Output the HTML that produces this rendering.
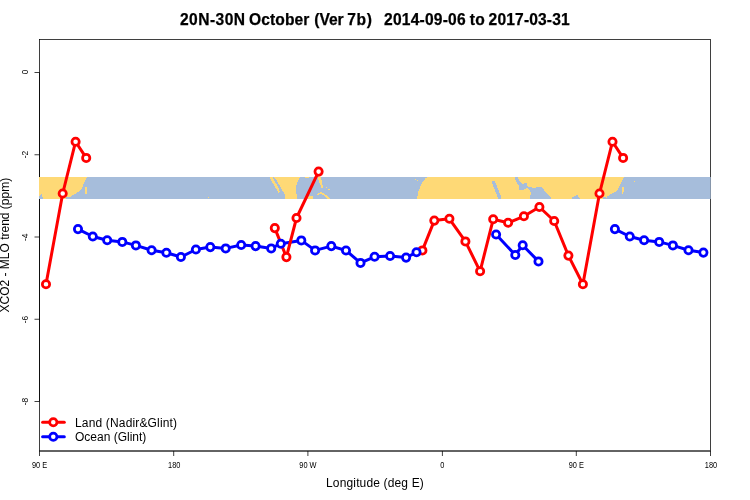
<!DOCTYPE html>
<html lang="en"><head><meta charset="utf-8"><title>20N-30N October (Ver 7b)</title>
<style>
html,body{margin:0;padding:0;background:#fff;}
body{width:750px;height:500px;overflow:hidden;}
svg{display:block;}
text{font-family:"Liberation Sans",Arial,Helvetica,sans-serif;fill:#000;}
.t{font-size:15.6px;font-weight:bold;stroke:#000;stroke-width:0.25px;}
.l{font-size:12px;}
.a{font-size:8.4px;}
</style></head><body>
<svg width="750" height="500" viewBox="0 0 750 500">
<rect x="0" y="0" width="750" height="500" fill="#fff"/>

<rect x="39.5" y="39.5" width="671.0" height="411.5" fill="none" stroke="#000" stroke-width="0.75"/>
<line x1="39.5" y1="451.0" x2="710.5" y2="451.0" stroke="#000" stroke-width="0.75"/>
<line x1="39.5" y1="72.5" x2="39.5" y2="401.5" stroke="#000" stroke-width="0.75"/>
<line x1="39.5" y1="451.0" x2="39.5" y2="456.0" stroke="#000" stroke-width="0.75"/>
<text class="a" transform="translate(39.5,467.8) scale(0.88,1)" text-anchor="middle">90 E</text>
<line x1="173.7" y1="451.0" x2="173.7" y2="456.0" stroke="#000" stroke-width="0.75"/>
<text class="a" transform="translate(174.2,467.8) scale(0.88,1)" text-anchor="middle">180</text>
<line x1="307.9" y1="451.0" x2="307.9" y2="456.0" stroke="#000" stroke-width="0.75"/>
<text class="a" transform="translate(307.9,467.8) scale(0.88,1)" text-anchor="middle">90 W</text>
<line x1="442.4" y1="451.0" x2="442.4" y2="456.0" stroke="#000" stroke-width="0.75"/>
<text class="a" transform="translate(442.4,467.8) scale(0.88,1)" text-anchor="middle">0</text>
<line x1="576.3" y1="451.0" x2="576.3" y2="456.0" stroke="#000" stroke-width="0.75"/>
<text class="a" transform="translate(576.3,467.8) scale(0.88,1)" text-anchor="middle">90 E</text>
<line x1="710.5" y1="451.0" x2="710.5" y2="456.0" stroke="#000" stroke-width="0.75"/>
<text class="a" transform="translate(711.0,467.8) scale(0.88,1)" text-anchor="middle">180</text>
<line x1="34.5" y1="72.5" x2="39.5" y2="72.5" stroke="#000" stroke-width="0.75"/>
<text class="a" transform="translate(27.8,72.00) rotate(-90)" text-anchor="middle">0</text>
<line x1="34.5" y1="154.75" x2="39.5" y2="154.75" stroke="#000" stroke-width="0.75"/>
<text class="a" transform="translate(27.8,154.45) rotate(-90)" text-anchor="middle">-2</text>
<line x1="34.5" y1="237.0" x2="39.5" y2="237.0" stroke="#000" stroke-width="0.75"/>
<text class="a" transform="translate(27.8,237.40) rotate(-90)" text-anchor="middle">-4</text>
<line x1="34.5" y1="319.25" x2="39.5" y2="319.25" stroke="#000" stroke-width="0.75"/>
<text class="a" transform="translate(27.8,319.65) rotate(-90)" text-anchor="middle">-6</text>
<line x1="34.5" y1="401.5" x2="39.5" y2="401.5" stroke="#000" stroke-width="0.75"/>
<text class="a" transform="translate(27.8,401.60) rotate(-90)" text-anchor="middle">-8</text>
<rect x="39" y="177" width="671.7" height="22" fill="#A6BDDB"/>
<g shape-rendering="crispEdges">
<polygon points="39.0,177.0 87.0,177.0 85.0,181.0 83.5,184.5 82.0,188.0 80.0,191.0 76.5,193.0 72.5,195.0 70.0,197.0 69.5,199.0 39.0,199.0" fill="#FED976"/>
<polygon points="85.3,186.8 87.0,186.8 87.0,190.5 86.5,194.0 85.0,194.0 85.0,190.0" fill="#FED976"/>
<polygon points="39.0,195.5 40.5,195.5 41.0,194.0 42.0,194.0 42.5,197.0 43.2,199.0 39.0,199.0" fill="#A6BDDB"/>
<polygon points="66.0,197.0 69.5,197.0 69.5,199.0 66.0,199.0" fill="#A6BDDB"/>
<polygon points="208.0,197.0 209.0,197.0 209.0,198.0 208.0,198.0" fill="#FED976"/>
<polygon points="270.0,177.0 272.5,177.0 275.5,182.5 278.5,187.5 280.0,192.0 278.5,192.5 275.5,187.5 272.5,182.5 270.5,179.0" fill="#FED976"/>
<polygon points="274.0,177.0 300.0,177.0 298.5,180.0 296.5,185.0 296.0,191.0 297.0,196.0 297.5,199.0 285.0,199.0 284.5,194.0 281.0,188.0 277.0,181.0" fill="#FED976"/>
<polygon points="304.5,177.0 309.0,177.0 308.0,178.5 305.0,178.0" fill="#FED976"/>
<polygon points="308.0,199.0 308.5,196.5 312.5,196.0 313.0,199.0" fill="#FED976"/>
<polygon points="318.0,177.0 320.5,177.0 322.0,182.0 323.0,187.5 321.5,187.5 319.5,183.0 318.5,180.0" fill="#FED976"/>
<polygon points="316.5,194.5 318.0,193.0 321.0,192.0 324.0,193.5 328.0,196.5 331.0,199.0 327.5,199.0 325.0,196.5 321.5,194.0 318.5,194.5 317.0,195.5" fill="#FED976"/>
<polygon points="328.0,188.5 329.5,188.5 329.5,189.5 328.0,189.5" fill="#FED976"/>
<polygon points="326.0,187.0 327.0,187.0 327.0,188.0 326.0,188.0" fill="#FED976"/>
<polygon points="415.0,178.5 416.0,178.5 416.0,179.5 415.0,179.5" fill="#FED976"/>
<polygon points="417.0,180.0 418.0,180.0 418.0,181.0 417.0,181.0" fill="#FED976"/>
<polygon points="427.3,177.0 576.3,177.0 576.3,199.0 417.3,199.0 417.6,195.0 418.6,191.0 419.8,188.0 421.3,184.0 423.5,181.0 425.5,178.5" fill="#FED976"/>
<polygon points="492.0,181.0 494.5,181.0 496.5,185.0 498.5,190.0 500.5,195.0 501.5,199.0 498.0,199.0 496.5,194.0 494.5,189.0 492.5,184.0" fill="#A6BDDB"/>
<polygon points="514.5,177.0 517.5,177.0 519.5,181.0 522.0,184.0 525.0,183.0 526.5,183.0 526.5,186.0 529.0,187.0 534.0,188.0 538.0,187.0 542.0,187.0 544.0,190.0 546.0,193.0 549.0,196.0 551.0,198.0 551.0,199.0 529.5,199.0 530.0,196.0 531.5,193.0 529.5,190.0 527.0,188.0 524.5,189.5 519.5,189.5 519.0,186.0 517.0,183.0 515.5,180.0" fill="#A6BDDB"/>
<polygon points="576.3,177.0 623.8,177.0 621.8,181.0 620.3,184.5 618.8,188.0 616.8,191.0 613.3,193.0 609.3,195.0 606.8,197.0 606.3,199.0 576.3,199.0" fill="#FED976"/>
<polygon points="622.1,186.8 623.8,186.8 623.8,190.5 623.3,194.0 621.8,194.0 621.8,190.0" fill="#FED976"/>
<polygon points="634.3,181.0 635.3,181.0 635.3,182.0 634.3,182.0" fill="#FED976"/>
<polygon points="572.0,199.0 572.0,197.0 575.0,196.0 577.0,194.5 578.0,194.5 578.5,197.0 580.0,199.0" fill="#A6BDDB"/>
<polygon points="602.5,197.0 606.0,197.0 606.0,199.0 602.5,199.0" fill="#A6BDDB"/>
</g>
<polyline points="78.0,229.1 92.8,236.5 107.2,240.3 122.3,241.9 135.9,245.4 151.6,250.3 166.4,252.8 180.9,257.0 195.9,249.5 210.3,247.1 225.7,248.4 241.2,245.0 255.6,246.1 271.2,248.4 280.8,243.7 301.3,240.4 315.1,250.4 331.3,246.1 346.0,250.5 360.5,262.9 374.6,256.8 390.1,256.0 406.1,257.6 416.5,252.3" fill="none" stroke="#0000FF" stroke-width="3" stroke-linecap="round" stroke-linejoin="round"/>
<polyline points="496.1,234.5 515.3,255.0 522.7,245.2 538.5,261.4" fill="none" stroke="#0000FF" stroke-width="3" stroke-linecap="round" stroke-linejoin="round"/>
<polyline points="614.9,229.1 629.8,236.5 644.1,240.3 659.2,241.9 672.9,245.4 688.5,250.3 703.4,252.6" fill="none" stroke="#0000FF" stroke-width="3" stroke-linecap="round" stroke-linejoin="round"/>
<polyline points="46.0,284.3 62.7,193.5 75.6,141.7 86.2,157.9" fill="none" stroke="#FF0000" stroke-width="3" stroke-linecap="round" stroke-linejoin="round"/>
<polyline points="274.8,228.1 286.4,257.1 296.5,218.0 318.6,171.6" fill="none" stroke="#FF0000" stroke-width="3" stroke-linecap="round" stroke-linejoin="round"/>
<polyline points="422.4,250.4 434.3,220.6 449.4,218.8 465.4,241.4 480.1,271.3 493.2,219.3 508.1,222.8 523.9,216.3 539.4,207.0 554.2,221.0 568.4,255.6 582.9,284.3 599.5,193.5 612.5,141.7 623.1,157.9" fill="none" stroke="#FF0000" stroke-width="3" stroke-linecap="round" stroke-linejoin="round"/>
<circle cx="46.0" cy="284.3" r="3.65" fill="#fff" stroke="#FF0000" stroke-width="2.75"/>
<circle cx="62.7" cy="193.5" r="3.65" fill="#fff" stroke="#FF0000" stroke-width="2.75"/>
<circle cx="75.6" cy="141.7" r="3.65" fill="#fff" stroke="#FF0000" stroke-width="2.75"/>
<circle cx="86.2" cy="157.9" r="3.65" fill="#fff" stroke="#FF0000" stroke-width="2.75"/>
<circle cx="274.8" cy="228.1" r="3.65" fill="#fff" stroke="#FF0000" stroke-width="2.75"/>
<circle cx="286.4" cy="257.1" r="3.65" fill="#fff" stroke="#FF0000" stroke-width="2.75"/>
<circle cx="296.5" cy="218.0" r="3.65" fill="#fff" stroke="#FF0000" stroke-width="2.75"/>
<circle cx="318.6" cy="171.6" r="3.65" fill="#fff" stroke="#FF0000" stroke-width="2.75"/>
<circle cx="422.4" cy="250.4" r="3.65" fill="#fff" stroke="#FF0000" stroke-width="2.75"/>
<circle cx="434.3" cy="220.6" r="3.65" fill="#fff" stroke="#FF0000" stroke-width="2.75"/>
<circle cx="449.4" cy="218.8" r="3.65" fill="#fff" stroke="#FF0000" stroke-width="2.75"/>
<circle cx="465.4" cy="241.4" r="3.65" fill="#fff" stroke="#FF0000" stroke-width="2.75"/>
<circle cx="480.1" cy="271.3" r="3.65" fill="#fff" stroke="#FF0000" stroke-width="2.75"/>
<circle cx="493.2" cy="219.3" r="3.65" fill="#fff" stroke="#FF0000" stroke-width="2.75"/>
<circle cx="508.1" cy="222.8" r="3.65" fill="#fff" stroke="#FF0000" stroke-width="2.75"/>
<circle cx="523.9" cy="216.3" r="3.65" fill="#fff" stroke="#FF0000" stroke-width="2.75"/>
<circle cx="539.4" cy="207.0" r="3.65" fill="#fff" stroke="#FF0000" stroke-width="2.75"/>
<circle cx="554.2" cy="221.0" r="3.65" fill="#fff" stroke="#FF0000" stroke-width="2.75"/>
<circle cx="568.4" cy="255.6" r="3.65" fill="#fff" stroke="#FF0000" stroke-width="2.75"/>
<circle cx="582.9" cy="284.3" r="3.65" fill="#fff" stroke="#FF0000" stroke-width="2.75"/>
<circle cx="599.5" cy="193.5" r="3.65" fill="#fff" stroke="#FF0000" stroke-width="2.75"/>
<circle cx="612.5" cy="141.7" r="3.65" fill="#fff" stroke="#FF0000" stroke-width="2.75"/>
<circle cx="623.1" cy="157.9" r="3.65" fill="#fff" stroke="#FF0000" stroke-width="2.75"/>
<circle cx="78.0" cy="229.1" r="3.65" fill="#fff" stroke="#0000FF" stroke-width="2.75"/>
<circle cx="92.8" cy="236.5" r="3.65" fill="#fff" stroke="#0000FF" stroke-width="2.75"/>
<circle cx="107.2" cy="240.3" r="3.65" fill="#fff" stroke="#0000FF" stroke-width="2.75"/>
<circle cx="122.3" cy="241.9" r="3.65" fill="#fff" stroke="#0000FF" stroke-width="2.75"/>
<circle cx="135.9" cy="245.4" r="3.65" fill="#fff" stroke="#0000FF" stroke-width="2.75"/>
<circle cx="151.6" cy="250.3" r="3.65" fill="#fff" stroke="#0000FF" stroke-width="2.75"/>
<circle cx="166.4" cy="252.8" r="3.65" fill="#fff" stroke="#0000FF" stroke-width="2.75"/>
<circle cx="180.9" cy="257.0" r="3.65" fill="#fff" stroke="#0000FF" stroke-width="2.75"/>
<circle cx="195.9" cy="249.5" r="3.65" fill="#fff" stroke="#0000FF" stroke-width="2.75"/>
<circle cx="210.3" cy="247.1" r="3.65" fill="#fff" stroke="#0000FF" stroke-width="2.75"/>
<circle cx="225.7" cy="248.4" r="3.65" fill="#fff" stroke="#0000FF" stroke-width="2.75"/>
<circle cx="241.2" cy="245.0" r="3.65" fill="#fff" stroke="#0000FF" stroke-width="2.75"/>
<circle cx="255.6" cy="246.1" r="3.65" fill="#fff" stroke="#0000FF" stroke-width="2.75"/>
<circle cx="271.2" cy="248.4" r="3.65" fill="#fff" stroke="#0000FF" stroke-width="2.75"/>
<circle cx="280.8" cy="243.7" r="3.65" fill="#fff" stroke="#0000FF" stroke-width="2.75"/>
<circle cx="301.3" cy="240.4" r="3.65" fill="#fff" stroke="#0000FF" stroke-width="2.75"/>
<circle cx="315.1" cy="250.4" r="3.65" fill="#fff" stroke="#0000FF" stroke-width="2.75"/>
<circle cx="331.3" cy="246.1" r="3.65" fill="#fff" stroke="#0000FF" stroke-width="2.75"/>
<circle cx="346.0" cy="250.5" r="3.65" fill="#fff" stroke="#0000FF" stroke-width="2.75"/>
<circle cx="360.5" cy="262.9" r="3.65" fill="#fff" stroke="#0000FF" stroke-width="2.75"/>
<circle cx="374.6" cy="256.8" r="3.65" fill="#fff" stroke="#0000FF" stroke-width="2.75"/>
<circle cx="390.1" cy="256.0" r="3.65" fill="#fff" stroke="#0000FF" stroke-width="2.75"/>
<circle cx="406.1" cy="257.6" r="3.65" fill="#fff" stroke="#0000FF" stroke-width="2.75"/>
<circle cx="416.5" cy="252.3" r="3.65" fill="#fff" stroke="#0000FF" stroke-width="2.75"/>
<circle cx="496.1" cy="234.5" r="3.65" fill="#fff" stroke="#0000FF" stroke-width="2.75"/>
<circle cx="515.3" cy="255.0" r="3.65" fill="#fff" stroke="#0000FF" stroke-width="2.75"/>
<circle cx="522.7" cy="245.2" r="3.65" fill="#fff" stroke="#0000FF" stroke-width="2.75"/>
<circle cx="538.5" cy="261.4" r="3.65" fill="#fff" stroke="#0000FF" stroke-width="2.75"/>
<circle cx="614.9" cy="229.1" r="3.65" fill="#fff" stroke="#0000FF" stroke-width="2.75"/>
<circle cx="629.8" cy="236.5" r="3.65" fill="#fff" stroke="#0000FF" stroke-width="2.75"/>
<circle cx="644.1" cy="240.3" r="3.65" fill="#fff" stroke="#0000FF" stroke-width="2.75"/>
<circle cx="659.2" cy="241.9" r="3.65" fill="#fff" stroke="#0000FF" stroke-width="2.75"/>
<circle cx="672.9" cy="245.4" r="3.65" fill="#fff" stroke="#0000FF" stroke-width="2.75"/>
<circle cx="688.5" cy="250.3" r="3.65" fill="#fff" stroke="#0000FF" stroke-width="2.75"/>
<circle cx="703.4" cy="252.6" r="3.65" fill="#fff" stroke="#0000FF" stroke-width="2.75"/>
<text class="t" y="25.4"><tspan x="180.0" style="letter-spacing:0.45px">20N-30N</tspan> <tspan x="249.0" style="letter-spacing:0.1px">October</tspan> <tspan x="314.2" style="letter-spacing:0.0px">(Ver</tspan> <tspan x="347.3" style="letter-spacing:0.6px">7b)</tspan> <tspan x="384.0" style="letter-spacing:0.21px">2014-09-06</tspan> <tspan x="469.8" style="letter-spacing:0.2px">to</tspan> <tspan x="488.6" style="letter-spacing:0.15px">2017-03-31</tspan></text>
<text class="l" x="375" y="487.4" text-anchor="middle" style="letter-spacing:0.15px">Longitude (deg E)</text>
<text class="l" transform="translate(8.5,245.2) rotate(-90)" text-anchor="middle">XCO2 - MLO trend (ppm)</text>
<line x1="42.6" y1="422.25" x2="64.3" y2="422.25" stroke="#FF0000" stroke-width="3" stroke-linecap="round"/>
<circle cx="53.3" cy="422.25" r="3.65" fill="#fff" stroke="#FF0000" stroke-width="2.75"/>
<text class="l" x="75.0" y="426.8" style="letter-spacing:0.16px">Land (Nadir&amp;Glint)</text>
<line x1="42.6" y1="436.75" x2="64.3" y2="436.75" stroke="#0000FF" stroke-width="3" stroke-linecap="round"/>
<circle cx="53.3" cy="436.75" r="3.65" fill="#fff" stroke="#0000FF" stroke-width="2.75"/>
<text class="l" x="75.0" y="440.8" style="letter-spacing:0px">Ocean (Glint)</text>
</svg>
</body></html>
